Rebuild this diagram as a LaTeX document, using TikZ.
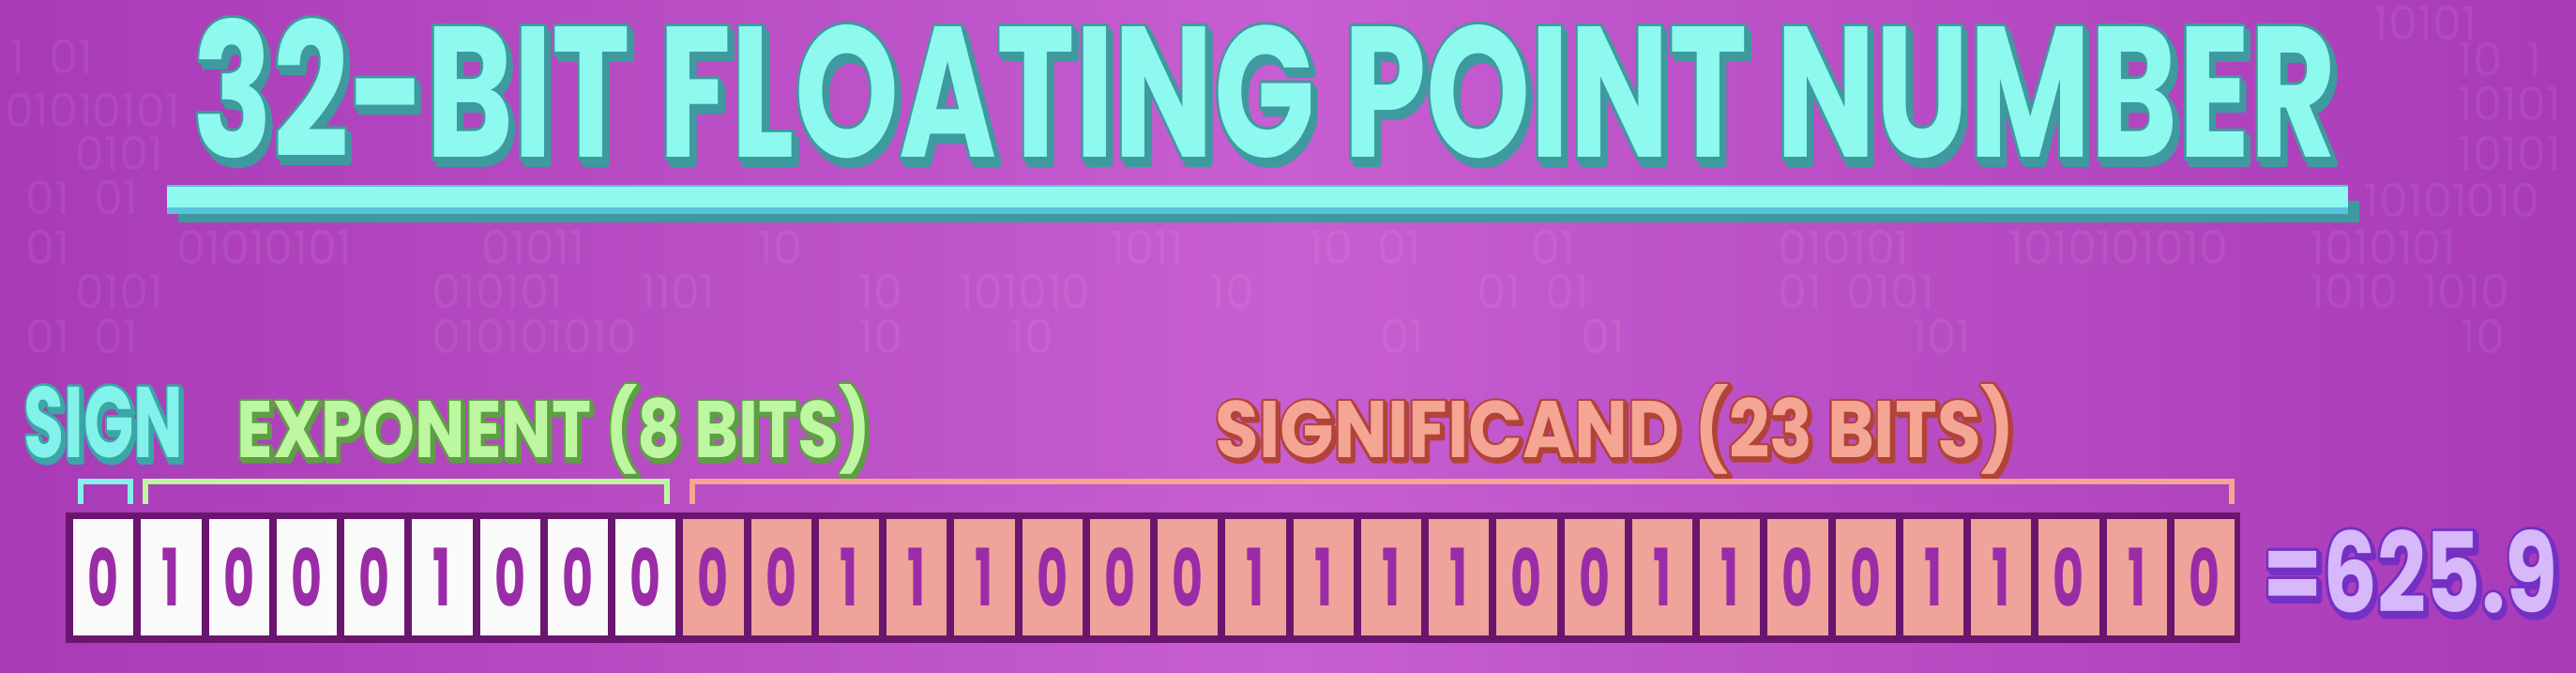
\documentclass[tikz,border=0pt]{standalone}
\usepackage{fontspec}
\setmainfont{Poppins}
\usepackage{graphicx}
\usepackage{xcolor}
\usetikzlibrary{positioning}

\definecolor{bgedge}{HTML}{A83AB6}
\definecolor{bgmid}{HTML}{C75ED1}
\definecolor{titleface}{HTML}{8EF9EF}
\definecolor{titleedge}{HTML}{3E9A9E}
\definecolor{barblue}{HTML}{5BC2DC}
\definecolor{signface}{HTML}{82F2EA}
\definecolor{signedge}{HTML}{3AA6A6}
\definecolor{expface}{HTML}{BDF8A0}
\definecolor{expedge}{HTML}{5E9E44}
\definecolor{sigface}{HTML}{F4A593}
\definecolor{sigedge}{HTML}{B24338}
\definecolor{resface}{HTML}{D7B8FB}
\definecolor{resedge}{HTML}{7430C4}
\definecolor{framepurple}{HTML}{6A166F}
\definecolor{cellwhite}{HTML}{FAFAFA}
\definecolor{cellsalmon}{HTML}{EFA39A}
\definecolor{digitpurple}{HTML}{9B2CA7}

% stroked copy of a text in one colour
\newcommand{\strokecopy}[3]{%
  {\color{#1}\special{pdf:literal direct #2 w 1 j 2 Tr}#3\special{pdf:literal direct 0 Tr}}}
% text with a drop shadow and an outline
\newcommand{\edged}[5]{%
  \rlap{\kern#4pt\raisebox{-#4pt}{\strokecopy{#1}{#3}{#5}}}%
  \rlap{\strokecopy{#1}{#3}{#5}}%
  {\color{#2}#5}}

\begin{document}
\begin{tikzpicture}[
  bigtext/.style={anchor=base west, inner sep=0pt, font=\bfseries\fontsize{60}{60}\selectfont},
  labeltext/.style={anchor=base west, inner sep=0pt, font=\bfseries\fontsize{31}{31}\selectfont},
  restext/.style={anchor=base west, inner sep=0pt, font=\bfseries\fontsize{36}{36}\selectfont},
  bgbits/.style={anchor=west, inner sep=0pt, text=white, text opacity=0.07,
    font=\fontsize{14}{14}\selectfont},
  cell/.style={minimum width=0.6425cm, minimum height=1.24cm, inner sep=0pt, text=digitpurple,
    font=\bfseries\fontsize{24}{24}\selectfont},
  whitecell/.style={cell, fill=cellwhite},
  salmoncell/.style={cell, fill=cellsalmon},
  brace/.style={line width=0.06cm},
]
\useasboundingbox (0,0) rectangle (27.46,7.16);
\clip (0,0) rectangle (27.46,7.16);
\shade[left color=bgedge, right color=bgedge, middle color=bgmid] (0,0) rectangle (27.46,7.16);

\foreach \x/\y/\s [count=\k] in {
  0.10/6.56/1 \ 01, 0.05/5.99/01010101, 0.80/5.53/0101, 0.27/5.06/01 \ 01,
  25.30/6.92/10101, 26.20/6.53/10 \ 1, 26.20/6.06/10101, 26.20/5.53/10101, 25.20/5.03/10101010,
  0.27/4.53/01, 1.88/4.53/01010101, 5.13/4.53/01011, 8.08/4.53/10, 11.83/4.53/1011,
  13.95/4.53/10 \ 01, 16.32/4.53/01, 18.95/4.53/010101, 21.41/4.53/1010101010, 24.62/4.53/1010101,
  0.80/4.06/0101, 4.60/4.06/010101, 6.83/4.06/1101, 9.15/4.06/10, 10.22/4.06/101010,
  12.90/4.06/10, 15.74/4.06/01 \ 01, 18.95/4.06/01 \ 0101, 24.62/4.06/1010 \ 1010,
  0.27/3.58/01 \ 01, 4.60/3.58/010101010, 9.15/3.58/10, 10.76/3.58/10, 14.71/3.58/01,
  16.85/3.58/01, 20.38/3.58/101, 26.23/3.58/10}
  \node[bgbits] (bg\k) at (\x,\y) {\s};

\node[bigtext] (title) at (2.05,5.48)
  {\resizebox{22.85cm}{1.48cm}{\edged{titleedge}{titleface}{2.4}{1.8}{32-BIT FLOATING POINT NUMBER}}};

\fill[titleedge] (1.90,4.79) rectangle (25.15,5.02);
\fill[barblue] (1.78,4.88) rectangle (25.03,5.19);
\fill[titleface] (1.78,4.95) rectangle (25.03,5.17);

\node[labeltext] (sign) at (0.25,2.28)
  {\resizebox{1.70cm}{0.76cm}{\edged{signedge}{signface}{2.2}{0.9}{SIGN}}};
\node[labeltext] (exponent) at (2.52,2.28)
  {\resizebox{6.76cm}{0.78cm}{\edged{expedge}{expface}{2.2}{0.9}{EXPONENT (8 BITS)}}};
\node[labeltext] (significand) at (12.95,2.28)
  {\resizebox{8.52cm}{0.78cm}{\edged{sigedge}{sigface}{2.2}{0.9}{SIGNIFICAND (23 BITS)}}};

\draw[brace, signface] (0.86,1.79) |- (1.39,2.03) -- (1.39,1.79);
\draw[brace, expface] (1.55,1.79) |- (7.11,2.03) -- (7.11,1.79);
\draw[brace, sigface] (7.38,1.79) |- (23.79,2.03) -- (23.79,1.79);

\fill[framepurple] (0.70,0.31) rectangle (23.88,1.70);
\foreach \b [count=\i] in {0,1,0,0,0,1,0,0,0}
  \node[whitecell] (c\i) at ({1.10125+(\i-1)*0.7225},1.01) {\scalebox{0.6}[1]{\b}};
\foreach \b [count=\i from 10] in {0,0,1,1,1,0,0,0,1,1,1,1,0,0,1,1,0,0,1,1,0,1,0}
  \node[salmoncell] (c\i) at ({1.10125+(\i-1)*0.7225},1.01) {\scalebox{0.6}[1]{\b}};

\node[restext] (result) at (24.12,0.63)
  {\resizebox{3.14cm}{0.88cm}{\edged{resedge}{resface}{2.4}{1.0}{=625.9}}};
\end{tikzpicture}
\end{document}
